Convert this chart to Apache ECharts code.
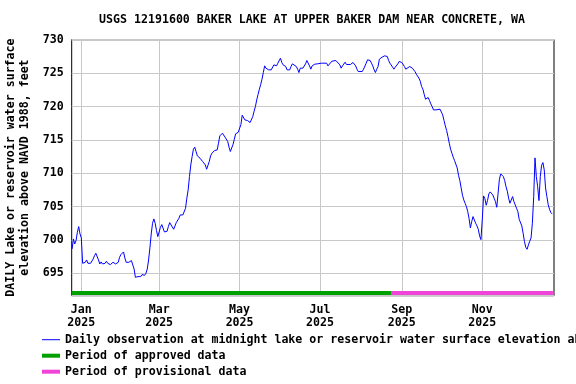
<!DOCTYPE html>
<html>
<head>
<meta charset="utf-8">
<script src="https://cdn.jsdelivr.net/npm/echarts@6/dist/echarts.min.js"></script>
<style>
html,body{margin:0;padding:0;background:#fff;}
#chart{width:576px;height:384px;}
</style>
</head>
<body>
<div id="chart"></div>
<script>
// Day offsets are days since 2025-01-01
const titleText = 'USGS 12191600 BAKER LAKE AT UPPER BAKER DAM NEAR CONCRETE, WA';
const yAxisTitle = 'DAILY Lake or reservoir water surface\nelevation above NAVD 1988, feet';
const obsName = 'Daily observation at midnight lake or reservoir water surface elevation above NAVD 1988, feet';
const approvedName = 'Period of approved data';
const provisionalName = 'Period of provisional data';

const monthTickDays = [0, 59, 120, 181, 243, 304];
const monthTickLabels = ['Jan\n2025', 'Mar\n2025', 'May\n2025', 'Jul\n2025', 'Sep\n2025', 'Nov\n2025'];
const elevationTicks = [695, 700, 705, 710, 715, 720, 725, 730];

const obsDay = [
-7,-6,-5,-4,-3,-2,-1,0,1,2,3,4,5,7,8,9,10,11,12,13,14,15,16,17,18,19,20,21,22,23,24,25,26,28,29,30,31,32,33,34,35,36,37,38,39,40,
41,42,43,44,45,46,47,48,49,50,51,52,53,54,55,56,57,58,59,60,61,62,63,64,65,66,67,68,70,71,72,74,75,76,77,79,80,81,82,83,84,85,86,87,88,90,92,94,95,97,98,99,101,102,103,104,105,107,108,109,111,112,113,115,116,117,119,120,
121,122,123,124,125,126,127,128,129,130,131,132,133,134,135,136,137,138,139,140,141,142,144,145,146,148,149,150,151,152,153,155,156,158,159,160,161,163,164,165,166,168,169,170,171,173,174,175,177,178,179,180,
182,183,184,186,187,188,190,191,193,194,196,197,198,200,201,202,204,205,206,208,209,210,211,213,214,216,217,218,219,220,221,222,223,224,225,226,227,228,229,230,232,233,234,235,236,237,238,239,240,
241,242,243,245,246,247,249,250,251,253,254,256,257,258,259,260,261,262,263,264,265,266,267,268,269,270,272,273,274,275,276,277,278,279,280,281,282,283,284,285,286,287,288,289,290,291,292,293,294,295,296,297,298,299,300,
301,302,303,304,305,306,307,308,309,310,311,312,313,314,315,316,317,318,319,320,321,322,323,324,325,326,327,328,329,330,331,332,334,335,336,337,338,339,340,341,342,343,344,345,346,347,348,349,350,351,352,353,354,355,356,357
];
const obsValue = [
698.65,700.15,699.4,699.9,701.15,702.0,700.9,700.3,696.5,696.4,696.65,697.0,696.5,696.5,696.65,697.15,697.65,698.0,697.8,697.0,696.4,696.7,696.4,696.65,696.5,696.8,696.5,696.4,696.3,696.5,696.65,696.9,696.4,696.65,697.4,697.8,698.0,698.2,697.3,696.65,696.5,696.65,696.65,696.9,696.65,695.65,
694.4,694.4,694.5,694.65,694.5,694.8,694.6,694.7,695.0,695.65,697.0,698.8,700.9,702.5,703.15,702.5,701.4,700.5,700.6,701.9,702.3,702.2,701.2,701.0,701.3,702.0,702.6,702.5,701.6,702.1,702.6,703.25,703.75,703.9,703.75,704.75,706.25,707.5,709.5,711.25,712.5,713.6,713.9,713.25,712.6,712.25,711.75,711.25,710.6,711.75,712.6,713.0,713.4,713.6,713.5,714.5,715.6,716.0,715.9,715.4,714.75,713.9,713.25,714.3,715.1,715.9,716.15,716.3,
717.3,718.7,718.7,718.0,718.2,717.9,718.0,717.6,717.4,718.5,719.3,720.0,721.0,721.8,722.6,723.3,724.1,725.1,726.1,725.75,725.9,725.5,725.5,725.75,726.25,726.1,726.5,726.25,727.25,726.6,726.25,726.0,725.5,725.5,726.0,726.4,726.4,726.0,725.6,725.1,725.75,725.75,725.9,726.4,726.9,726.1,725.6,726.1,726.35,726.1,726.4,726.25,
726.5,726.3,726.5,726.5,726.1,726.35,726.8,726.9,726.9,726.75,726.25,725.75,726.1,726.65,726.3,726.1,726.3,726.5,726.6,726.1,725.6,725.25,725.25,725.25,725.6,726.5,727.0,727.25,726.9,726.5,726.1,725.5,725.1,725.6,726.0,727.1,727.0,727.4,727.4,727.6,727.5,726.9,726.5,726.4,725.9,725.6,725.9,726.1,726.4,
726.75,726.85,726.6,726.0,725.6,725.5,726.0,725.9,725.75,725.25,724.85,724.25,723.8,723.0,722.6,721.8,721.1,721.0,721.35,720.9,720.4,720.0,719.5,719.3,719.5,719.6,719.6,719.4,718.75,717.9,717.1,716.4,715.5,714.5,713.6,713.0,712.4,711.9,711.7,710.8,709.7,708.9,707.8,706.7,706.0,705.5,705.0,704.25,703.2,701.8,702.75,703.5,703.0,702.5,702.1,
701.6,700.6,700.05,703.0,706.6,706.2,705.2,705.9,706.9,707.2,707.1,706.75,706.25,705.75,704.9,707.0,709.1,709.9,710.0,709.5,708.9,708.0,707.3,706.25,705.5,705.75,706.5,705.75,705.25,704.75,704.25,703.1,702.1,701.0,699.75,698.9,698.6,699.25,699.8,700.3,702.5,706.5,712.3,709.5,708.0,705.9,709.5,711.2,711.6,710.5,707.8,706.5,705.3,704.6,704.1,703.9
];

// Data-quality periods (start day, end day)
const approvedPeriod = [-7.3, 235.3];
const provisionalPeriod = [235.3, 357.6];

// display constants
const xMin = -7.3, xMax = 358.4;
const yMin = 691.64, yMax = 730.05;
const periodBarLevel = 692.05;

const FONT = 'DejaVu Sans Mono';
const textBase = {fontFamily: FONT, fontWeight: 'bold', fontSize: 11.6, color: '#000'};

const chart = echarts.init(document.getElementById('chart'), null, {renderer: 'canvas'});
const obsData = obsDay.map((d, i) => [d, obsValue[i]]);

chart.setOption({
  animation: false,
  backgroundColor: '#fff',
  title: {
    text: titleText, left: 312, top: 13, textAlign: 'center', padding: 0,
    textStyle: Object.assign({}, textBase, {lineHeight: 14})
  },
  grid: {left: 71.7, right: 22, top: 39.5, bottom: 88.3, show: true, borderColor: '#000', borderWidth: 1,
         backgroundColor: '#fff', containLabel: false, outerBoundsMode: 'none'},
  xAxis: {
    type: 'value', min: xMin, max: xMax,
    axisLine: {show: false},
    axisTick: {show: false, customValues: monthTickDays},
    splitLine: {show: true, lineStyle: {color: '#c8c8c8', width: 1}},
    axisLabel: {
      customValues: monthTickDays, margin: 8,
      formatter: v => monthTickLabels[monthTickDays.indexOf(Math.round(v))] || '',
      fontFamily: FONT, fontWeight: 'bold', fontSize: 11.6, color: '#000', lineHeight: 13
    }
  },
  yAxis: {
    type: 'value', min: yMin, max: yMax, minInterval: 5, maxInterval: 5,
    name: yAxisTitle, nameLocation: 'middle', nameGap: 38.7,
    nameTextStyle: Object.assign({}, textBase, {lineHeight: 14}),
    axisLine: {show: false}, axisTick: {show: false},
    splitLine: {show: true, lineStyle: {color: '#c8c8c8', width: 1}},
    axisLabel: {
      margin: 8, showMinLabel: true, showMaxLabel: true,
      formatter: v => (elevationTicks.indexOf(Math.round(v * 100) / 100) >= 0 ? String(v) : ''),
      fontFamily: FONT, fontWeight: 'bold', fontSize: 11.6, color: '#000'
    }
  },
  legend: [
    {left: 42, top: 333.7, padding: 0, selectedMode: false, itemWidth: 18, itemHeight: 1, icon: 'rect',
     data: [{name: obsName, itemStyle: {color: '#0000ff'}}], textStyle: textBase},
    {left: 42, top: 349.7, padding: 0, selectedMode: false, itemWidth: 18, itemHeight: 4, icon: 'rect',
     data: [{name: approvedName, itemStyle: {color: '#00a000'}}], textStyle: textBase},
    {left: 42, top: 365.7, padding: 0, selectedMode: false, itemWidth: 18, itemHeight: 4, icon: 'rect',
     data: [{name: provisionalName, itemStyle: {color: '#f044d8'}}], textStyle: textBase}
  ],
  series: [
    {name: obsName, type: 'line', data: obsData, symbol: 'none', z: 3,
     lineStyle: {color: '#0000ff', width: 1}, itemStyle: {color: '#0000ff'}},
    {name: approvedName, type: 'line', symbol: 'none', z: 2,
     data: [[approvedPeriod[0], periodBarLevel], [approvedPeriod[1], periodBarLevel]],
     lineStyle: {color: '#00a000', width: 4, cap: 'butt'}, itemStyle: {color: '#00a000'}},
    {name: provisionalName, type: 'line', symbol: 'none', z: 2,
     data: [[provisionalPeriod[0], periodBarLevel], [provisionalPeriod[1], periodBarLevel]],
     lineStyle: {color: '#f044d8', width: 4, cap: 'butt'}, itemStyle: {color: '#f044d8'}}
  ]
});
</script>
</body>
</html>
